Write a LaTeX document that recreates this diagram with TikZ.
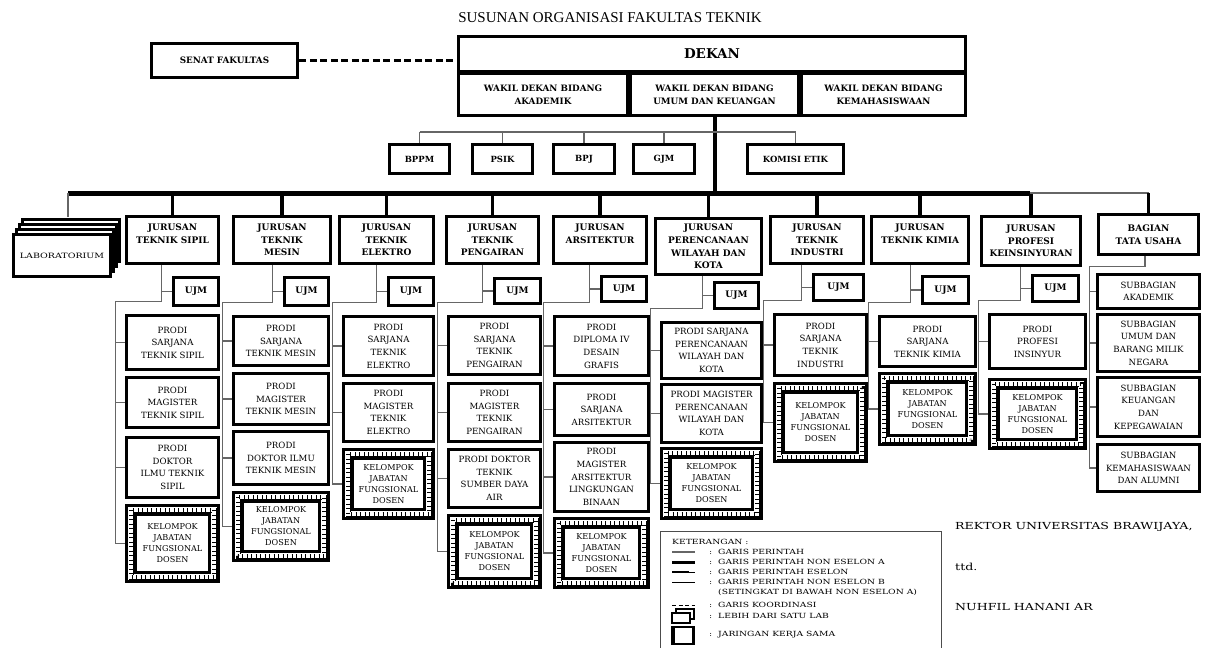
\documentclass[tikz,border=0pt]{standalone}
\usepackage{fontspec}
\setmainfont{DejaVu Serif}
\newfontfamily\judulfont{Liberation Serif}
\newfontfamily\lebarfont{DejaVu Serif}[FakeStretch=1.3]
\usetikzlibrary{backgrounds}

\tikzset{
  kotakdasar/.style={draw, fill=white, align=center, inner sep=0pt},
  atas/.style={kotakdasar, line width=3.5pt, font=\bfseries\fontsize{8.8}{13}\selectfont},
  unit/.style={kotakdasar, line width=3.5pt, font=\bfseries\fontsize{8.5}{13}\selectfont},
  dekanbox/.style={kotakdasar, line width=3.5pt, font=\bfseries\fontsize{13.5}{15}\selectfont},
  jur/.style={kotakdasar, line width=3.5pt, font=\bfseries\fontsize{9}{12.7}\selectfont},
  ujm/.style={kotakdasar, line width=3.5pt, font=\bfseries\fontsize{9}{10}\selectfont},
  prodi/.style={kotakdasar, line width=3.3pt, font=\fontsize{8.6}{12.6}\selectfont},
  kjfd/.style={kotakdasar, line width=3pt, font=\fontsize{8.1}{11}\selectfont},
  lab/.style={kotakdasar, line width=3pt, font=\lebarfont\fontsize{7.3}{9}\selectfont},
  garis/.style={draw=black!60, line width=1.1pt},
  tebal/.style={line width=3.5pt},
  ket/.style={anchor=west, inner sep=0pt, font=\lebarfont\fontsize{7.1}{8}\selectfont},
  ttd/.style={anchor=west, inner sep=0pt, font=\lebarfont\fontsize{9.7}{11}\selectfont},
}

% kotak dari pojok kiri atas ke pojok kanan bawah (dalam piksel)
\newcommand{\kotak}[7]{\node[#2, minimum width={(#5-#3-3)*1pt}, minimum height={(#6-#4-3)*1pt}] (#1) at ({(#3+#5)/2},{(#4+#6)/2}) {#7};}

% kelompok jabatan fungsional dosen
\newcommand{\kelompok}[5]{%
  \kotak{#1}{kjfd}{#2}{#3}{#4}{#5}{KELOMPOK\\JABATAN\\FUNGSIONAL\\DOSEN}
  \draw[line width=5pt] ({#2+6},{#3+6}) rectangle ({#4-6},{#5-6});
  \draw[line width=3.2pt,white] ({#2+6},{#3+6}) rectangle ({#4-6},{#5-6});
  \draw[line width=3.2pt,dash pattern=on 0.9pt off 3.6pt] ({#2+6},{#3+6}) rectangle ({#4-6},{#5-6});
  \draw[line width=2.8pt] ({#2+10.5},{#3+10.5}) rectangle ({#4-10.5},{#5-10.5});
}

% garis jurusan ke ujm dan prodi
\newcommand{\cabang}[5]{%
  \coordinate (v#1) at ([xshift=-10.5pt]#2.west);
  \coordinate (c#1) at ([xshift=-9.5pt,yshift=12pt]#3.north west);
  \draw[garis] (#1.south -| v#1) -- (v#1 |- c#1) -- (c#1) -- (#4.west -| c#1);
  \draw[garis] (v#1) -- (#2.west);
  \foreach \p in {#5} \draw[garis] (\p.west -| c#1) -- (\p.west);
}

\begin{document}
\begin{tikzpicture}[x=1pt,y=-1pt]
\useasboundingbox (0,0) rectangle (1205,648);

\node[font=\judulfont\fontsize{15}{18}\selectfont] (judul) at (610,18) {SUSUNAN ORGANISASI FAKULTAS TEKNIK};

% pimpinan
\kotak{senat}{atas}{150}{42}{299}{79}{SENAT FAKULTAS}
\kotak{dekan}{dekanbox}{457}{35}{967}{73}{DEKAN}
\kotak{wa}{atas}{457}{72}{629}{117}{WAKIL DEKAN BIDANG\\AKADEMIK}
\kotak{wb}{atas}{629}{72}{800}{117}{WAKIL DEKAN BIDANG\\UMUM DAN KEUANGAN}
\kotak{wc}{atas}{800}{72}{967}{117}{WAKIL DEKAN BIDANG\\KEMAHASISWAAN}

% unit
\kotak{bppm}{unit}{388}{143}{451}{175}{BPPM}
\kotak{psik}{unit}{471}{143}{534}{175}{PSIK}
\kotak{bpj}{unit}{552}{143}{616}{175}{BPJ}
\kotak{gjm}{unit}{632}{143}{696}{175}{GJM}
\kotak{etik}{unit}{746}{143}{845}{175}{KOMISI ETIK}

% laboratorium
\foreach \i in {3,2,1}
  \draw[line width=3pt,fill=white] ({12+3*\i+1.5},{233-5*\i+1.5}) rectangle ({112+3*\i-1.5},{278-5*\i-1.5});
\kotak{lab}{lab}{12}{233}{112}{278}{LABORATORIUM}
\coordinate (labatas) at (68,217);

% jurusan
\kotak{js}{jur}{125}{215}{220}{265}{JURUSAN\\TEKNIK SIPIL\\~}
\kotak{jm}{jur}{232}{215}{332}{265}{JURUSAN\\TEKNIK\\MESIN}
\kotak{je}{jur}{338}{215}{435}{265}{JURUSAN\\TEKNIK\\ELEKTRO}
\kotak{jp}{jur}{445}{215}{540}{265}{JURUSAN\\TEKNIK\\PENGAIRAN}
\kotak{ja}{jur}{552}{215}{648}{265}{JURUSAN\\ARSITEKTUR\\~}
\kotak{jw}{jur}{654}{217}{763}{276}{JURUSAN\\PERENCANAAN\\WILAYAH DAN\\KOTA}
\kotak{ji}{jur}{769}{215}{865}{265}{JURUSAN\\TEKNIK\\INDUSTRI}
\kotak{jk}{jur}{870}{215}{970}{265}{JURUSAN\\TEKNIK KIMIA\\~}
\kotak{jpk}{jur}{980}{215}{1082}{267}{JURUSAN\\PROFESI\\KEINSINYURAN}
\kotak{jtu}{jur}{1097}{213}{1200}{256}{BAGIAN\\TATA USAHA}

% ujm
\kotak{us}{ujm}{172}{276}{220}{307}{UJM}
\kotak{um}{ujm}{283}{276}{330}{307}{UJM}
\kotak{ue}{ujm}{387}{276}{435}{307}{UJM}
\kotak{up}{ujm}{493}{277}{542}{305}{UJM}
\kotak{ua}{ujm}{600}{275}{648}{303}{UJM}
\kotak{uw}{ujm}{713}{281}{760}{310}{UJM}
\kotak{ui}{ujm}{812}{273}{865}{302}{UJM}
\kotak{uk}{ujm}{921}{275}{970}{305}{UJM}
\kotak{upk}{ujm}{1031}{274}{1080}{303}{UJM}

% prodi
\kotak{s1}{prodi}{125}{314}{220}{371}{PRODI\\SARJANA\\TEKNIK SIPIL}
\kotak{s2}{prodi}{125}{376}{220}{429}{PRODI\\MAGISTER\\TEKNIK SIPIL}
\kotak{s3}{prodi}{125}{436}{220}{499}{PRODI\\DOKTOR\\ILMU TEKNIK\\SIPIL}
\kelompok{s4}{125}{504}{220}{583}
\kotak{m1}{prodi}{232}{315}{330}{367}{PRODI\\SARJANA\\TEKNIK MESIN}
\kotak{m2}{prodi}{232}{372}{330}{426}{PRODI\\MAGISTER\\TEKNIK MESIN}
\kotak{m3}{prodi}{232}{430}{330}{486}{PRODI\\DOKTOR ILMU\\TEKNIK MESIN}
\kelompok{m4}{232}{491}{330}{562}
\kotak{e1}{prodi}{342}{315}{435}{377}{PRODI\\SARJANA\\TEKNIK\\ELEKTRO}
\kotak{e2}{prodi}{342}{382}{435}{443}{PRODI\\MAGISTER\\TEKNIK\\ELEKTRO}
\kelompok{e3}{342}{448}{435}{520}
\kotak{p1}{prodi}{447}{315}{542}{376}{PRODI\\SARJANA\\TEKNIK\\PENGAIRAN}
\kotak{p2}{prodi}{447}{382}{542}{443}{PRODI\\MAGISTER\\TEKNIK\\PENGAIRAN}
\kotak{p3}{prodi}{447}{448}{542}{509}{PRODI DOKTOR\\TEKNIK\\SUMBER DAYA\\AIR}
\kelompok{p4}{447}{514}{542}{589}
\kotak{a1}{prodi}{553}{315}{650}{377}{PRODI\\DIPLOMA IV\\DESAIN\\GRAFIS}
\kotak{a2}{prodi}{553}{382}{650}{437}{PRODI\\SARJANA\\ARSITEKTUR}
\kotak{a3}{prodi}{553}{441}{650}{513}{PRODI\\MAGISTER\\ARSITEKTUR\\LINGKUNGAN\\BINAAN}
\kelompok{a4}{553}{517}{650}{589}
\kotak{w1}{prodi}{660}{321}{763}{380}{PRODI SARJANA\\PERENCANAAN\\WILAYAH DAN\\KOTA}
\kotak{w2}{prodi}{660}{383}{763}{444}{PRODI MAGISTER\\PERENCANAAN\\WILAYAH DAN\\KOTA}
\kelompok{w3}{660}{447}{763}{520}
\kotak{i1}{prodi}{773}{313}{868}{377}{PRODI\\SARJANA\\TEKNIK\\INDUSTRI}
\kelompok{i2}{773}{382}{868}{463}
\kotak{k1}{prodi}{878}{315}{977}{368}{PRODI\\SARJANA\\TEKNIK KIMIA}
\kelompok{k2}{878}{372}{977}{446}
\kotak{f1}{prodi}{988}{313}{1087}{370}{PRODI\\PROFESI\\INSINYUR}
\kelompok{f2}{988}{378}{1087}{450}
\kotak{t1}{prodi}{1096}{273}{1201}{310}{SUBBAGIAN\\AKADEMIK}
\kotak{t2}{prodi}{1096}{313}{1201}{373}{SUBBAGIAN\\UMUM DAN\\BARANG MILIK\\NEGARA}
\kotak{t3}{prodi}{1096}{376}{1201}{438}{SUBBAGIAN\\KEUANGAN\\DAN\\KEPEGAWAIAN}
\kotak{t4}{prodi}{1096}{443}{1201}{493}{SUBBAGIAN\\KEMAHASISWAAN\\DAN ALUMNI}

% garis-garis
\begin{scope}[on background layer]
  \draw[line width=3.5pt,dash pattern=on 7pt off 3.5pt] (senat.east) -- (senat.east -| dekan.west);
  \coordinate (busL) at (68,193);
  \coordinate (busR) at (1030,193);
  \coordinate (busU) at (0,132);
  \draw[line width=4pt] (wb.south) -- (wb.south |- busL);
  \draw[garis] (bppm.north |- busU) -- (etik.north |- busU);
  \foreach \b in {bppm,psik,bpj,gjm,etik}
    \draw[garis] (\b.north |- busU) -- (\b.north);
  \draw[line width=5pt] (busL) -- (busR);
  \draw[garis] (busL) -- (labatas);
  \foreach \j in {js,jm,je,jp,ja,jw,ji,jk,jpk}
    \draw[tebal] (\j.north |- busL) -- (\j.north);
  \draw[garis] (busR) -- (jtu.north |- busR);
  \draw[tebal] (jtu.north |- busR) -- (jtu.north);
  \cabang{js}{us}{s1}{s4}{s1,s2,s3,s4}
  \cabang{jm}{um}{m1}{m4}{m1,m2,m3,m4}
  \cabang{je}{ue}{e1}{e3}{e1,e2,e3}
  \cabang{jp}{up}{p1}{p4}{p1,p2,p3,p4}
  \cabang{ja}{ua}{a1}{a4}{a1,a2,a3,a4}
  \cabang{jw}{uw}{w1}{w3}{w1,w2,w3}
  \cabang{ji}{ui}{i1}{i2}{i1,i2}
  \cabang{jk}{uk}{k1}{k2}{k1,k2}
  \cabang{jpk}{upk}{f1}{f2}{f1,f2}
  \coordinate (vtu) at ([xshift=-3.5pt]jtu.south);
  \coordinate (ctu) at ([xshift=-6.5pt,yshift=6pt]t1.north west);
  \draw[garis] (vtu) -- (vtu |- ctu) -- (ctu) -- (t4.west -| ctu);
  \foreach \t in {t1,t2,t3,t4}
    \draw[garis] (\t.west -| ctu) -- (\t.west);
\end{scope}

% keterangan
\draw[line width=0.8pt,draw=black!70] (660,531) rectangle (941,660);
\node[ket] (k0) at (672,542) {KETERANGAN :};
\node[ket] (k1) at (709,552) {:\ \ GARIS PERINTAH};
\node[ket] (k2) at (709,562) {:\ \ GARIS PERINTAH NON ESELON A};
\node[ket] (k3) at (709,572) {:\ \ GARIS PERINTAH ESELON};
\node[ket] (k4) at (709,582) {:\ \ GARIS PERINTAH NON ESELON B};
\node[ket] (k5) at (718,592) {(SETINGKAT DI BAWAH NON ESELON A)};
\node[ket] (k6) at (709,605) {:\ \ GARIS KOORDINASI};
\node[ket] (k7) at (709,616) {:\ \ LEBIH DARI SATU LAB};
\node[ket] (k8) at (709,635) {:\ \ JARINGAN KERJA SAMA};
\draw[line width=1.2pt,black!60] (672,552) -- (695,552);
\draw[line width=3pt] (672,562) -- (695,562);
\draw[line width=2.2pt] (672,572) -- (689,572);
\draw[line width=1pt] (689,572) -- (695,572);
\draw[line width=0.9pt] (672,582) -- (695,582);
\draw[line width=0.9pt,dash pattern=on 4pt off 2.5pt] (672,605) -- (695,605);
\draw[line width=1.3pt,fill=white] (676,609) rectangle (694,619);
\draw[line width=1.3pt,fill=white] (672,613) rectangle (690,623);
\draw[line width=1.3pt] (672,627) rectangle (694,644);
\draw[line width=3pt] (673,627) -- (673,644) (693,627) -- (693,644);

% tanda tangan
\node[ttd] (rektor) at (955,527) {REKTOR UNIVERSITAS BRAWIJAYA,};
\node[ttd] (ttd) at (955,567) {ttd.};
\node[ttd] (nama) at (955,607) {NUHFIL HANANI AR};
\end{tikzpicture}
\end{document}
